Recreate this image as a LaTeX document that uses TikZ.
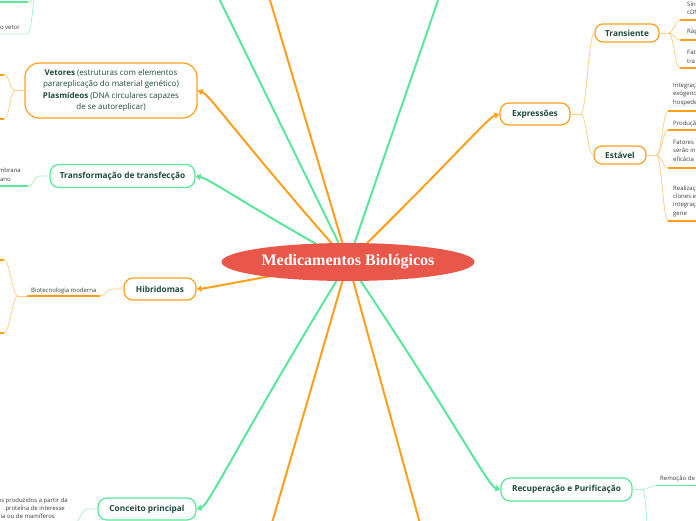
\documentclass[tikz,border=0pt]{standalone}
\usepackage{fontspec}
\setmainfont{Open Sans}
\newfontfamily\titlefont{Liberation Serif}
\usetikzlibrary{positioning,arrows.meta,backgrounds,shapes.geometric}

\definecolor{rootred}{HTML}{E9574A}
\definecolor{branchorange}{HTML}{FFA01C}
\definecolor{branchgreen}{HTML}{5AE69B}
\definecolor{lightorange}{HTML}{FFD08C}
\definecolor{lightgreen}{HTML}{A9F3C9}
\definecolor{topictext}{HTML}{1E4A3E}
\definecolor{leaftext}{HTML}{3A3A3A}

\begin{document}
\begin{tikzpicture}[x=1pt, y=-1pt,
  root/.style={ellipse, fill=rootred, text=white, minimum width=253pt,
               minimum height=38pt, inner sep=0pt,
               font=\titlefont\bfseries\fontsize{16}{18}\selectfont},
  topic/.style={draw, fill=white, line width=1.2pt, rounded corners=9pt,
                text=topictext, minimum height=22pt, inner sep=0pt,
                font=\fontsize{8.3}{10}\selectfont\bfseries},
  otopic/.style={topic, draw=branchorange},
  gtopic/.style={topic, draw=branchgreen},
  leaf/.style={font=\fontsize{6}{8.4}\selectfont, text=leaftext,
               align=left, inner sep=0pt},
  obranch/.style={draw=branchorange, line width=2pt,
                  -{Triangle[length=5pt,width=6pt]}},
  gbranch/.style={draw=branchgreen, line width=2pt,
                  -{Triangle[length=5pt,width=6pt]}},
  otrunk/.style={draw=branchorange, line width=2pt},
  gtrunk/.style={draw=branchgreen, line width=2pt},
  olink/.style={draw=lightorange, line width=0.8pt},
  glink/.style={draw=lightgreen, line width=0.8pt},
  oline/.style={draw=branchorange, line width=1.3pt},
  gline/.style={draw=branchgreen, line width=1.3pt}
]
  \useasboundingbox (0,0) rectangle (696,520);

  % central topic
  \node[root] (root) at (348,262) {Medicamentos Biológicos};

  % main topics
  \node[otopic, minimum width=172pt, minimum height=55pt, rounded corners=14pt,
        align=center, font=\fontsize{8}{11.3}\selectfont] (vet) at (111,90.5)
    {\textbf{Vetores} (estruturas com elementos\\
     parareplicação do material genético)\\
     \textbf{Plasmídeos} (DNA circulares capazes\\
     de se autoreplicar)};
  \node[gtopic, minimum width=145pt, minimum height=23pt] (trf) at (122.5,176)
    {Transformação de transfecção};
  \node[otopic, minimum width=72pt] (hib) at (160,289) {Hibridomas};
  \node[gtopic, minimum width=98pt] (cpr) at (147,509) {Conceito principal};
  \node[otopic, minimum width=70pt] (exp) at (535,114) {Expressões};
  \node[otopic, minimum width=64pt, minimum height=18pt, rounded corners=8pt]
    (tra) at (627,33) {Transiente};
  \node[otopic, minimum width=52pt, minimum height=18pt, rounded corners=8pt]
    (est) at (620,155) {Estável};
  \node[gtopic, minimum width=131pt, minimum height=23pt] (rec) at (566.5,489.5)
    {Recuperação e Purificação};

  % branches from the centre
  \begin{scope}[on background layer]
    \draw[gbranch] (root.center) .. controls +(-107,-60) and +(14,3) .. (trf.east);
    \draw[obranch] (root.center) .. controls +(-106,-120) and +(12,4) .. (vet.east);
    \draw[obranch] (root.center) .. controls +(-106,19) and +(12,-1) .. (hib.east);
    \draw[gbranch] (root.center) .. controls +(-106,173) and +(12,-3) .. (cpr.east);
    \draw[obranch] (root.center) .. controls +(106,-104) and +(-12,4) .. (exp.west);
    \draw[gbranch] (root.center) .. controls +(107,159) and +(-12,-3) .. (rec.west);
    \coordinate (up1) at (210,-20);
    \coordinate (up2) at (264,-20);
    \coordinate (up3) at (445,-20);
    \coordinate (dn1) at (267,540);
    \coordinate (dn2) at (424.5,540);
    \draw[gtrunk] (root.center) -- (up1);
    \draw[otrunk] (root.center) -- (up2);
    \draw[gtrunk] (root.center) -- (up3);
    \draw[otrunk] (root.center) -- (dn1);
    \draw[otrunk] (root.center) -- (dn2);
  \end{scope}

  % top left fragments
  \coordinate (aj) at (37,-9);
  \coordinate (a1) at (28,2);
  \coordinate (a2) at (27,34);
  \draw[glink] (aj) .. controls +(-4,0) and +(5,0) .. (a1);
  \draw[gline] (a1) -- ++(-35,0);
  \draw[glink] (aj) .. controls +(-5,0) and +(6,0) .. (a2) -- ++(-35,0);
  \node[leaf, anchor=base east] (vetor) at (20,29) {do vetor};

  % Vetores
  \coordinate (v1) at (4,75);
  \coordinate (v2) at (4,119);
  \draw[olink] (vet.west) -- ++(-9,0) coordinate (vj);
  \draw[olink] (vj) .. controls +(-6,0) and +(6,0) .. (v1);
  \draw[olink] (vj) .. controls +(-6,0) and +(6,0) .. (v2);
  \draw[oline] (v1) -- ++(-10,0);
  \draw[oline] (v2) -- ++(-10,0);

  % Transformacao
  \coordinate (t1) at (28,186);
  \draw[glink] (trf.west) -- ++(-10,0) .. controls +(-6,0) and +(6,0) .. (t1);
  \draw[gline] (t1) -- ++(-35,0);
  \node[leaf, anchor=base east] (mem) at (21,172) {mbrana};
  \node[leaf, anchor=base east] (ano) at (11,181) {ano};

  % Hibridomas
  \coordinate (hr) at (100,296);
  \coordinate (hu) at (27,296);
  \coordinate (h1) at (4,260);
  \coordinate (h2) at (4,333);
  \node[leaf, anchor=base west] (bio) at (31,292) {Biotecnologia moderna};
  \draw[olink] (hib.west) -- ++(-11,0) .. controls +(-6,0) and +(6,0) .. (hr);
  \draw[oline] (hr) -- (hu);
  \draw[olink] (hu) -- ++(-9,0) coordinate (hj);
  \draw[olink] (hj) .. controls +(-6,0) and +(6,0) .. (h1);
  \draw[olink] (hj) .. controls +(-6,0) and +(6,0) .. (h2);
  \draw[oline] (h1) -- ++(-10,0);
  \draw[oline] (h2) -- ++(-10,0);

  % Conceito principal
  \coordinate (c1) at (72,526);
  \draw[glink] (cpr.west) -- ++(-10,0) .. controls +(-6,0) and +(6,0) .. (c1);
  \node[leaf, anchor=base east] (cp1) at (68,502) {os produzidos a partir da};
  \node[leaf, anchor=base east] (cp2) at (65,510) {proteína de interesse};
  \node[leaf, anchor=base east] (cp3) at (55,518) {ria ou de mamíferos};

  % Expressoes
  \draw[olink] (exp.east) -- ++(10,0) coordinate (ej);
  \draw[olink] (ej) .. controls +(6,0) and +(-6,0) .. (tra.west);
  \draw[olink] (ej) .. controls +(6,0) and +(-6,0) .. (est.west);

  % Transiente
  \coordinate (r1) at (680,20);
  \coordinate (r2) at (680,40);
  \coordinate (r3) at (680,68);
  \draw[olink] (tra.east) -- ++(9,0) coordinate (tj);
  \foreach \r in {r1,r2,r3}{
    \draw[olink] (tj) .. controls +(5,0) and +(-5,0) .. (\r);
    \draw[oline] (\r) -- ++(25,0);
  }
  \node[leaf, anchor=south west] (sin) at (687,15) {Sín\\cDNA};
  \node[leaf, anchor=south west] (rap) at (687,35.5) {Rápida};
  \node[leaf, anchor=south west] (fat) at (687,63.5) {Fatores\\tra};

  % Estavel
  \coordinate (s1) at (668,111);
  \coordinate (s2) at (668,130);
  \coordinate (s3) at (668,168);
  \coordinate (s4) at (668,221);
  \draw[olink] (est.east) -- ++(10,0) coordinate (sj);
  \foreach \s in {s1,s2,s3,s4}{
    \draw[olink] (sj) .. controls +(5,0) and +(-5,0) .. (\s);
    \draw[oline] (\s) -- ++(35,0);
  }
  \node[leaf, anchor=south west] (int) at (673,106) {Integração\\exógeno\\hospedeiro};
  \node[leaf, anchor=south west] (pro) at (673,127) {Produção};
  \node[leaf, anchor=south west] (fse) at (673,161.5) {Fatores\\serão in\\eficácia};
  \node[leaf, anchor=south west] (rea) at (673,217) {Realização\\clones e\\integração\\gene};

  % Recuperacao
  \coordinate (q1) at (656,485.5);
  \coordinate (q2) at (654,600);
  \draw[glink] (rec.east) -- ++(10,0) coordinate (rj);
  \draw[glink] (rj) .. controls +(5,0) and +(-5,0) .. (q1);
  \draw[glink] (rj) .. controls +(5,0) and +(-5,0) .. (q2);
  \draw[gline] (q1) -- ++(45,0);
  \node[leaf, anchor=base west] (rem) at (660,480.5) {Remoção de};
\end{tikzpicture}
\end{document}
